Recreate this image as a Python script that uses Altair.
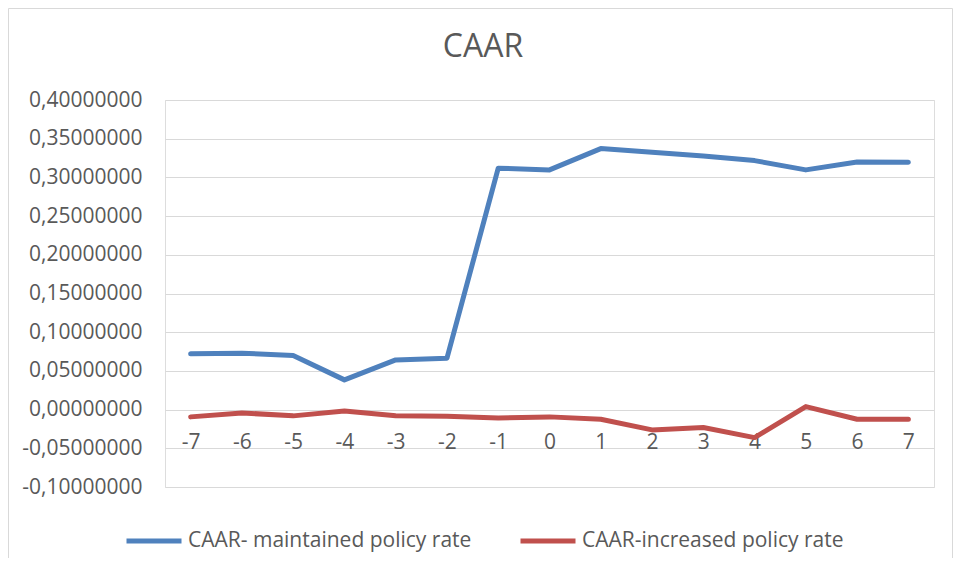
import altair as alt
import pandas as pd

# ---- data ----
days = ["-7", "-6", "-5", "-4", "-3", "-2", "-1", "0", "1", "2", "3", "4", "5", "6", "7"]
maintained = [0.0720, 0.0729, 0.0698, 0.0384, 0.0642, 0.0664, 0.3119, 0.3097,
              0.3372, 0.3326, 0.3278, 0.3217, 0.3097, 0.3200, 0.3196]
increased = [-0.0094, -0.0043, -0.0081, -0.0017, -0.0078, -0.0085, -0.0107, -0.0094,
             -0.0124, -0.0262, -0.0232, -0.0362, 0.0039, -0.0124, -0.0124]
series_names = ["CAAR- maintained policy rate", "CAAR-increased policy rate"]
y_ticks = [-0.10, -0.05, 0.00, 0.05, 0.10, 0.15, 0.20, 0.25, 0.30, 0.35, 0.40]
chart_title = "CAAR"

rows = []
for d, m, i in zip(days, maintained, increased):
    rows.append({"day": d, "series": series_names[0], "value": m})
    rows.append({"day": d, "series": series_names[1], "value": i})
df = pd.DataFrame(rows)

FONT = "Open Sans"
GRAY = "#595959"
GRID = "#D9D9D9"
BLUE = "#4F81BD"
RED = "#C0504D"

PAD_L, PAD_T, W, H = 157, 92, 769, 387
TOTAL_W, TOTAL_H = 945, 550

border = alt.Chart(pd.DataFrame({"a": [0]})).mark_rect(
    filled=False, stroke=GRID, strokeWidth=1
).encode(
    x=alt.value(-PAD_L + 0.5),
    x2=alt.value(TOTAL_W - PAD_L - 0.5),
    y=alt.value(-PAD_T + 0.5),
    y2=alt.value(TOTAL_H - PAD_T + 20),
)

label_expr = "(datum.value < -1e-9 ? '-' : '') + replace(format(abs(datum.value), '.8f'), '.', ',')"

lines = alt.Chart(df).mark_line(
    strokeWidth=5, strokeCap="round", strokeJoin="round"
).encode(
    x=alt.X(
        "day:O",
        sort=days,
        scale=alt.Scale(type="point", padding=0.5),
        axis=alt.Axis(
            title=None, grid=False, domain=False, ticks=False, labelAngle=0,
            labelFont=FONT, labelFontSize=21, labelColor=GRAY,
            labelBaseline="alphabetic", labelPadding=38.5, offset=-77.4,
        ),
    ),
    y=alt.Y(
        "value:Q",
        scale=alt.Scale(domain=[-0.1, 0.4], nice=False, zero=False),
        axis=alt.Axis(
            title=None, values=y_ticks, labelExpr=label_expr,
            grid=True, gridColor=GRID, gridWidth=1.2,
            domain=False, ticks=False, labelPadding=23,
            labelFont=FONT, labelFontSize=21, labelColor=GRAY,
        ),
    ),
    color=alt.Color(
        "series:N",
        scale=alt.Scale(domain=series_names, range=[BLUE, RED]),
        legend=alt.Legend(
            title=None, orient="none", legendX=-41, legendY=411,
            direction="horizontal", symbolType="stroke", symbolSize=3025,
            symbolStrokeWidth=5, labelFont=FONT, labelFontSize=21,
            labelColor=GRAY, labelOffset=4, columnPadding=38, padding=0,
            labelLimit=500,
        ),
    ),
)

chart = alt.layer(border, lines).properties(
    width=W,
    height=H,
    padding={"left": PAD_L, "top": PAD_T, "right": TOTAL_W - PAD_L - W, "bottom": TOTAL_H - PAD_T - H},
    autosize=alt.AutoSizeParams(type="none"),
    title=alt.TitleParams(
        chart_title, font=FONT, fontSize=32, fontWeight="normal", color=GRAY,
        anchor="middle", dx=-66.5, offset=-56,
    ),
).configure_view(stroke=None).configure(background="white")

chart.save("out.html", embed_options={"renderer": "svg", "actions": False})
